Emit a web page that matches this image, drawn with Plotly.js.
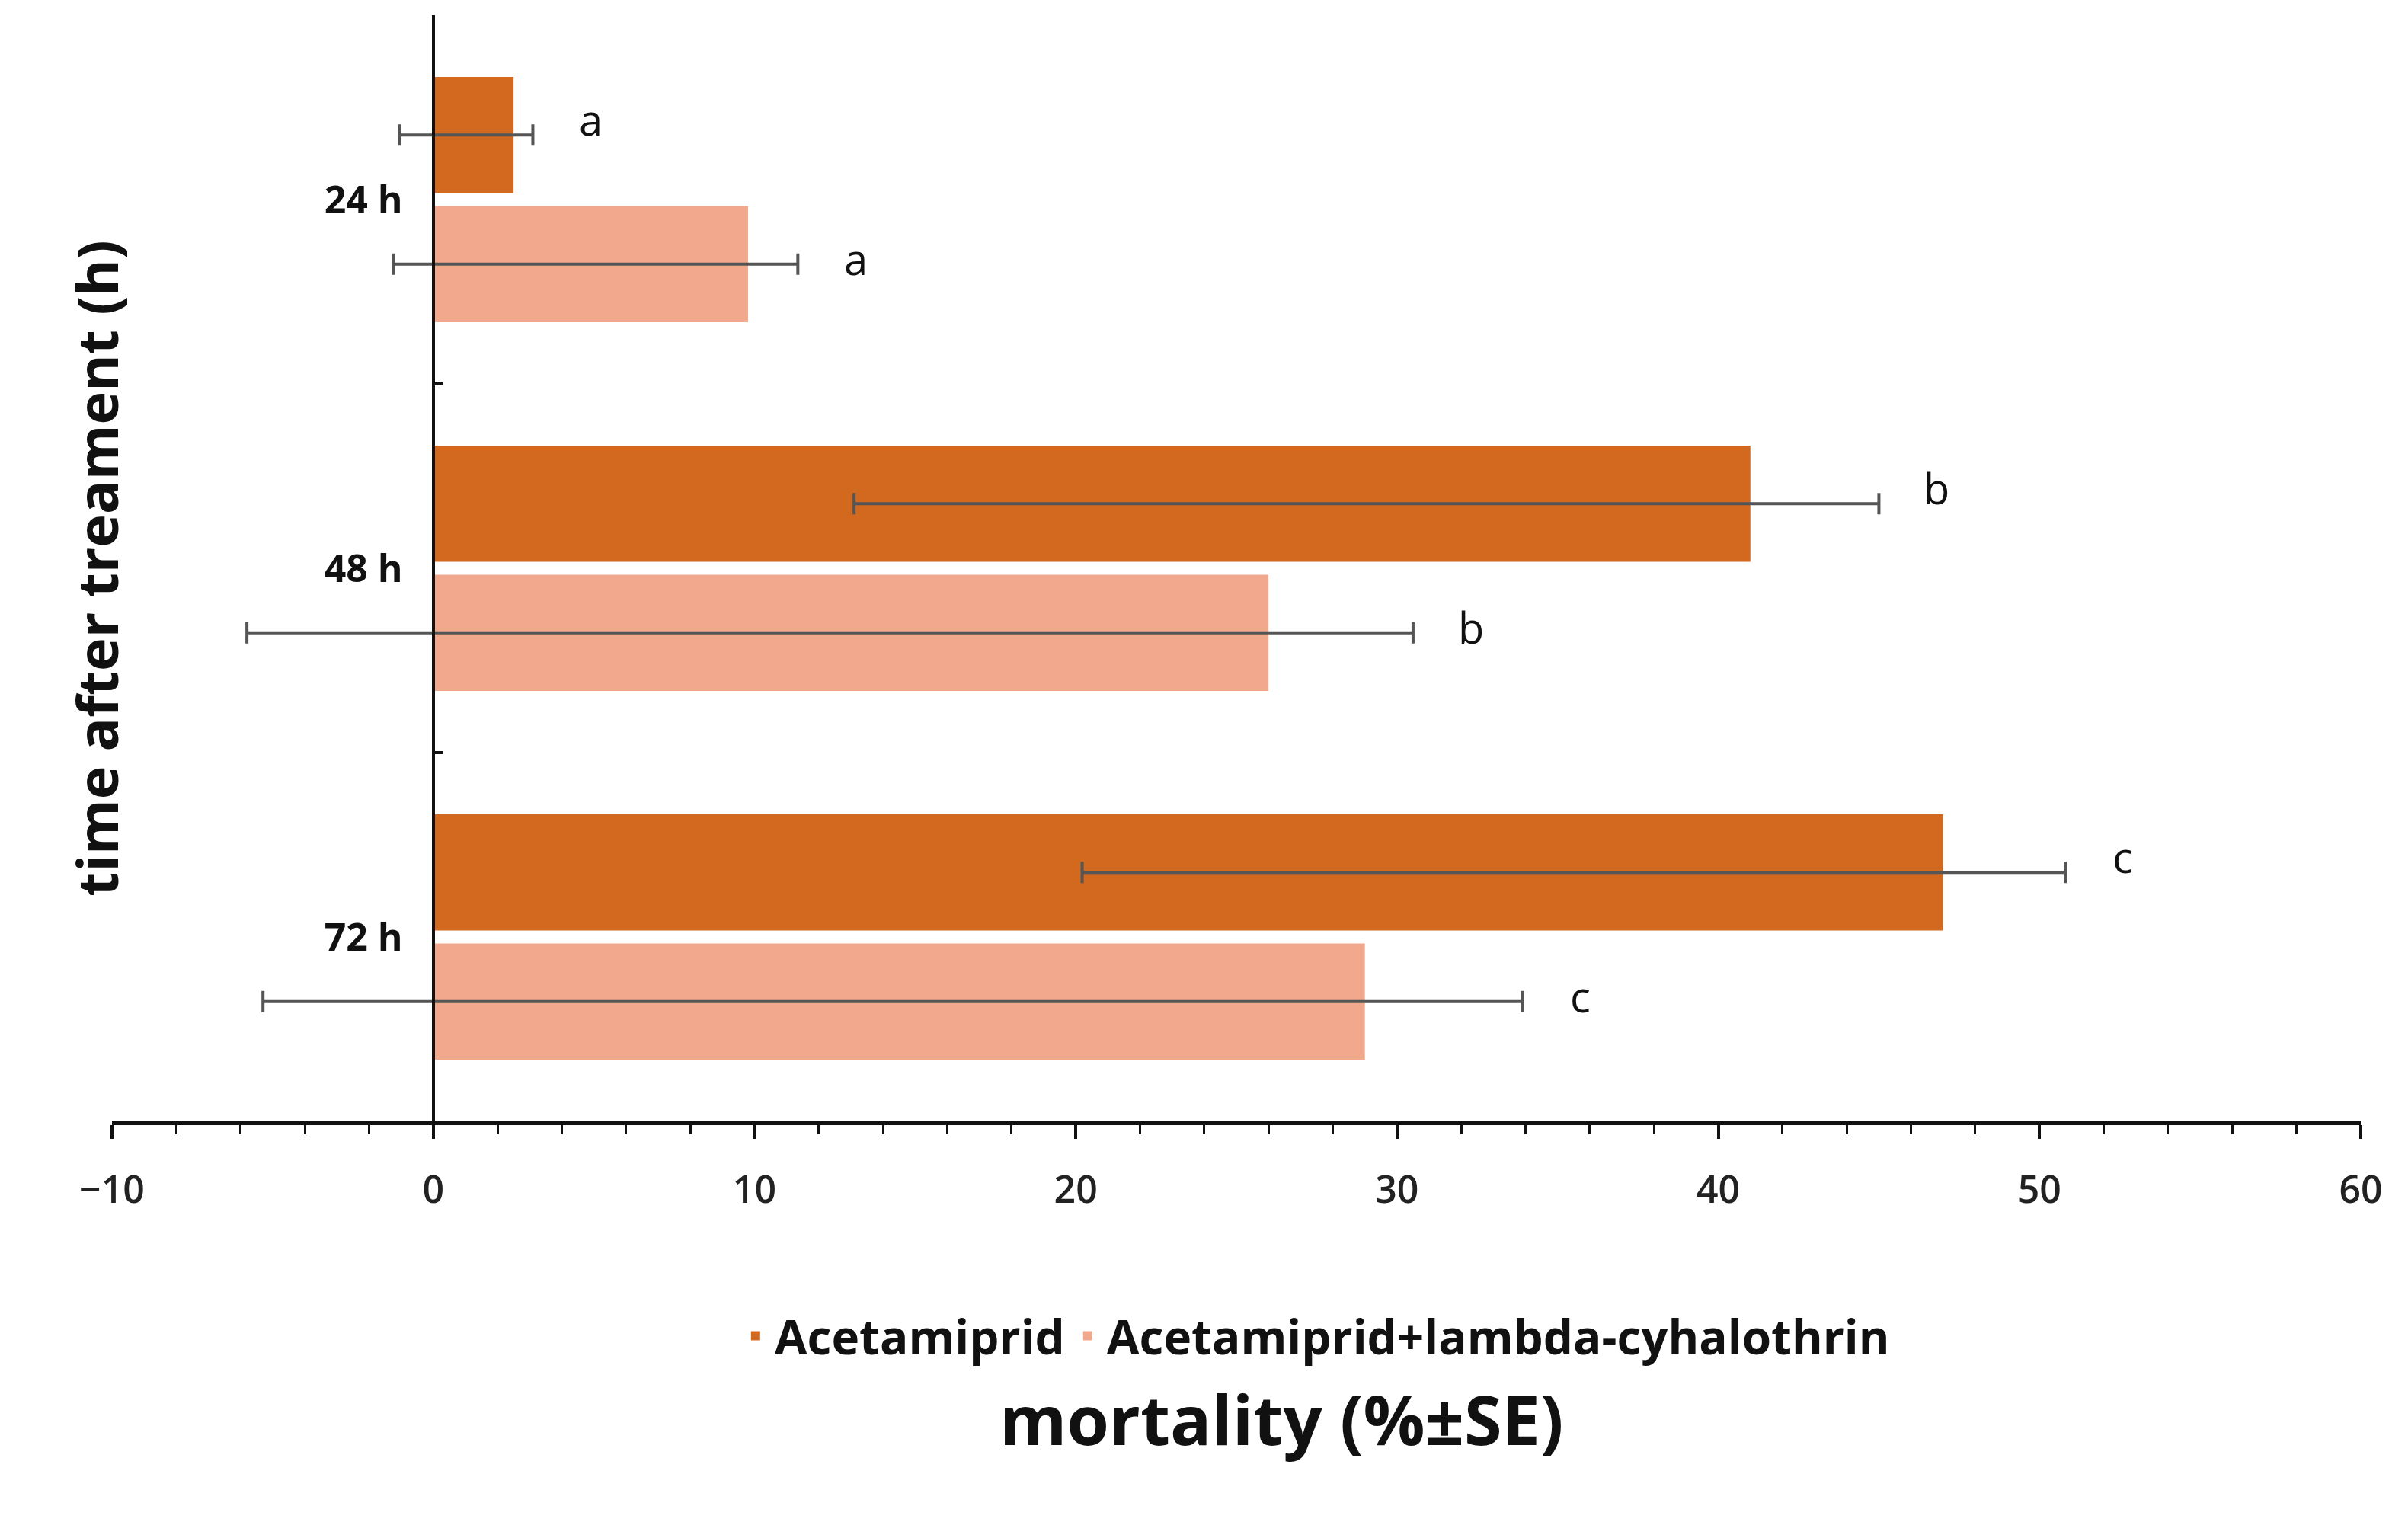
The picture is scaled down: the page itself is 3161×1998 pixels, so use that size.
<!DOCTYPE html>
<html>
<head>
<meta charset="utf-8">
<script src="https://cdn.plot.ly/plotly-3.0.1.min.js"></script>
<style>html,body{margin:0;padding:0;background:#fff}#chart{width:3161px;height:1998px}</style>
</head>
<body>
<div id="chart"></div>
<script>
  const categories = ["24 h", "48 h", "72 h"];
  const acetValues = [2.5, 41.0, 47.0];
  const acetPlus = [0.6, 4.0, 3.8];
  const acetMinus = [3.55, 27.9, 26.8];
  const acetLetters = ["a", "b", "c"];
  const comboValues = [9.8, 26.0, 29.0];
  const comboPlus = [1.55, 4.5, 4.9];
  const comboMinus = [11.05, 31.8, 34.3];
  const comboLetters = ["a", "b", "c"];

  const FONT = "Open Sans, Noto Sans, sans-serif";
  const errStyle = (plus, minus) => ({
    type: "data", symmetric: false, array: plus, arrayminus: minus,
    color: "#555", thickness: 4, width: 14,
  });

  const traces = [
    {
      type: "bar", orientation: "h", name: "Acetamiprid",
      x: acetValues, y: categories,
      marker: { color: "#D2691F" },
      error_x: errStyle(acetPlus, acetMinus),
    },
    {
      type: "bar", orientation: "h", name: "Acetamiprid+lambda-cyhalothrin",
      x: comboValues, y: categories,
      marker: { color: "#F2A88C" },
      error_x: errStyle(comboPlus, comboMinus),
    },
  ];

  // letters sit a little to the right of each error bar end
  const annotations = [];
  categories.forEach((c, i) => {
    annotations.push({ x: acetValues[i] + acetPlus[i] + 1.8, y: i - 0.22, xref: "x", yref: "y",
      text: acetLetters[i], showarrow: false, font: { size: 56, color: "#111", family: FONT } });
    annotations.push({ x: comboValues[i] + comboPlus[i] + 1.8, y: i + 0.16, xref: "x", yref: "y",
      text: comboLetters[i], showarrow: false, font: { size: 56, color: "#111", family: FONT } });
  });
  annotations.push({ x: -0.025, y: 0.5, xref: "paper", yref: "paper", textangle: -90,
    text: "<b>time after treament (h)</b>", showarrow: false,
    font: { size: 74, color: "#111", family: FONT } });
  annotations.push({ x: 0.52, y: -0.312, xref: "paper", yref: "paper",
    text: "<b>mortality (%±SE)</b>", showarrow: false,
    font: { size: 90, color: "#111", family: FONT } });

  const layout = {
    width: 3161, height: 1998,
    margin: { l: 147, r: 62, t: 20, b: 526 },
    barmode: "group", bargap: 0.3, bargroupgap: 0.1,
    plot_bgcolor: "white", paper_bgcolor: "white",
    font: { family: FONT, color: "#111" },
    xaxis: {
      range: [-10, 60], dtick: 10, tick0: 0,
      showgrid: false, zeroline: false,
      showline: true, linecolor: "#111", linewidth: 5,
      ticks: "outside", ticklen: 18, tickwidth: 4, tickcolor: "#111",
      minor: { dtick: 2, ticks: "outside", ticklen: 12, tickwidth: 3, tickcolor: "#111" },
      ticklabelstandoff: 24,
      tickfont: { size: 50, color: "#222", family: FONT, weight: 600 },
      fixedrange: true,
    },
    yaxis: {
      autorange: "reversed", anchor: "free", position: 1 / 7,
      showline: true, linecolor: "#111", linewidth: 4,
      showgrid: false, tickson: "boundaries",
      ticks: "inside", ticklen: 10, tickwidth: 4, tickcolor: "#111",
      ticklabelstandoff: 28,
      tickfont: { size: 50, color: "#111", family: FONT, weight: "bold" },
      fixedrange: true,
    },
    showlegend: true,
    legend: {
      orientation: "h", x: 0.535, xanchor: "center", y: -0.194, yanchor: "middle",
      font: { size: 62, color: "#111", family: FONT, weight: "bold" },
      itemwidth: 40, traceorder: "normal",
    },
    annotations,
  };

  Plotly.newPlot("chart", traces, layout, { displayModeBar: false, staticPlot: true });
</script>
</body>
</html>
